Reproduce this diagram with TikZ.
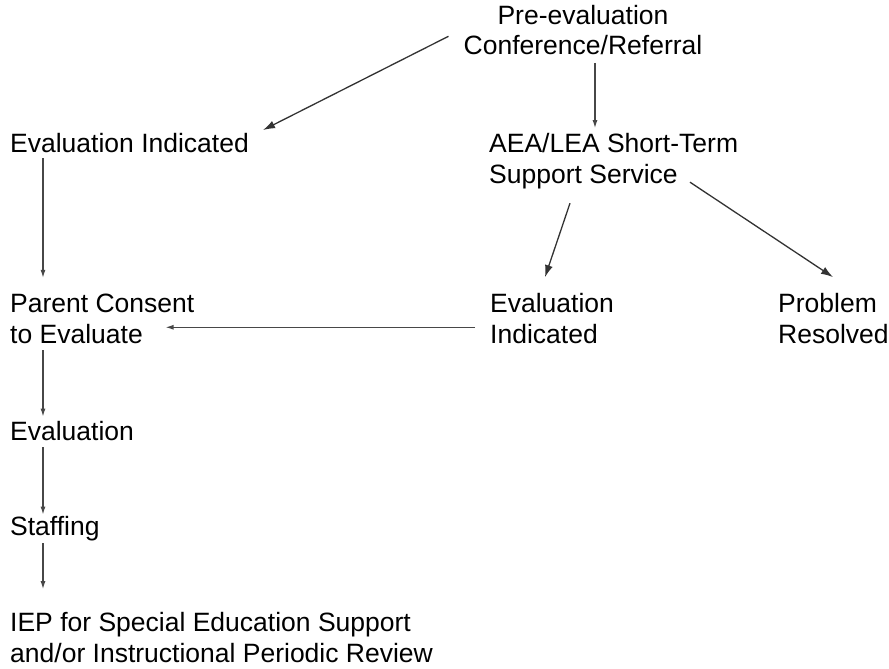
\documentclass[tikz,border=0pt]{standalone}
\usepackage{fontspec}
\setmainfont{Liberation Sans}
\usetikzlibrary{arrows.meta,calc}

\begin{document}
\begin{tikzpicture}[x=1pt, y=-1pt, font=\fontsize{26.5}{30.5}\selectfont,
	every node/.style={inner sep=0pt, anchor=base west, align=left},
	flow/.style={draw=black!72, line width=1.2pt, -{Latex[length=8pt,width=5pt]}},
	branch/.style={draw=black!80, line width=1.3pt, -{Latex[length=12pt,width=8pt]}}]
	\useasboundingbox (0,0) rectangle (889,669);
	\node[anchor=base, align=center] (pre) at (583,55) {Pre-evaluation\\Conference/Referral};
	\node (evl) at (10,152) {Evaluation Indicated};
	\node (aea) at (489,183) {AEA/LEA Short-Term\\Support Service};
	\node (consent) at (10,343) {Parent Consent\\to Evaluate};
	\node (evr) at (490,343) {Evaluation\\Indicated};
	\node (resolved) at (778,343) {Problem\\Resolved};
	\node (eval) at (10,440) {Evaluation};
	\node (staff) at (10,535) {Staffing};
	\node (iep) at (10,662) {IEP for Special Education Support\\and/or Instructional Periodic Review};
	\draw[branch] ($(pre.west)+(-15,6)$) -- ($(evl.east)+(14,-12.5)$);
	\draw[flow] ($(pre.south)+(12,7.5)$) -- ($(pre.south |- aea.north)+(12,-5)$);
	\draw[flow] ($(evl.south west)+(33,6)$) -- ($(consent.north west)+(33,-16)$);
	\draw[branch] ($(aea.south west)+(81,14.5)$) -- ($(evr.north west)+(55,-16)$);
	\draw[branch] ($(aea.south west)+(201,-6.5)$) -- ($(resolved.north west)+(55,-16)$);
	\draw[flow] ($(evr.west)+(-15,9)$) -- ($(consent.east |- evr.west)+(-29,9)$);
	\draw[flow] ($(consent.south west)+(33,7)$) -- ($(eval.north west)+(33,-4)$);
	\draw[flow] ($(eval.south west)+(33,7)$) -- ($(staff.north west)+(33,-1)$);
	\draw[flow] ($(staff.south west)+(33,2.5)$) -- ($(iep.north west)+(33,-23)$);
\end{tikzpicture}
\end{document}
